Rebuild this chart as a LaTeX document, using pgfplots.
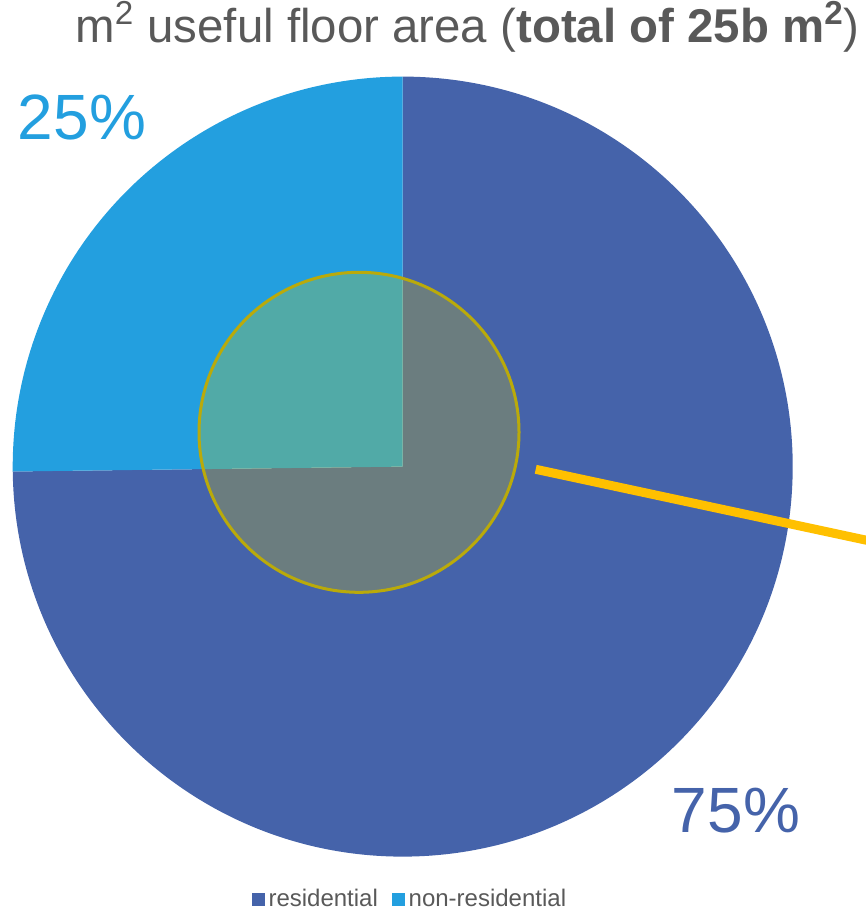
\documentclass[border=0pt]{standalone}
\usepackage{fontspec}
\setmainfont{Liberation Sans}
\usepackage{pgfplots}
\usepackage{pgfplotstable}
\pgfplotsset{compat=1.18}

\definecolor{resblue}{RGB}{69,99,170}
\definecolor{nonresblue}{RGB}{35,159,223}
\definecolor{txtgray}{RGB}{89,89,89}
\definecolor{hlfill}{RGB}{221,203,0}
\definecolor{hledge}{RGB}{186,170,10}
\definecolor{gold}{RGB}{255,192,0}

% share of useful floor area, %
\pgfplotstableread{
label value
residential 74.8
non-residential 25.2
}\piedata

\begin{document}
\begin{tikzpicture}
\pgfplotstablegetelem{0}{value}\of\piedata
\pgfmathsetmacro{\vres}{\pgfplotsretval}
\pgfmathsetmacro{\aend}{90-3.6*\vres}
\begin{axis}[
    scale only axis,
    width=433pt, height=454.5pt,
    xmin=0, xmax=866, ymin=0, ymax=909,
    y dir=reverse,
    hide axis,
    legend columns=-1,
    legend cell align=left,
    legend style={at={(0.4745,0.011)}, anchor=center, draw=none, fill=none,
        inner sep=0pt, text=txtgray, font=\fontsize{12}{14}\selectfont,
        /tikz/every even column/.append style={column sep=5pt}},
]
% pie slices, clockwise from 12 o'clock
\fill[resblue] (axis cs:402.7,466.6) -- ++(90:195pt)
    arc[start angle=90, end angle=\aend, radius=195pt] -- cycle;
\fill[nonresblue] (axis cs:402.7,466.6) -- ++(\aend:195pt)
    arc[start angle=\aend, end angle=-270, radius=195pt] -- cycle;

% highlight circle and pointer
\draw[hledge, line width=1.5pt, fill=hlfill, fill opacity=0.25]
    (axis cs:359,432.3) circle[radius=80pt];
\addplot[gold, line width=4.5pt, no markers, forget plot]
    coordinates {(535.7,469.3) (870,541)};

\addlegendimage{legend image code/.code={\fill[resblue] (0pt,-3pt) rectangle (6pt,3pt);}}
\addlegendentry{residential}
\addlegendimage{legend image code/.code={\fill[nonresblue] (0pt,-3pt) rectangle (6pt,3pt);}}
\addlegendentry{non-residential}

\node[anchor=base, text=nonresblue, font=\fontsize{32}{38}\selectfont]
    at (axis cs:82,140) {25\%};
\node[anchor=base, text=resblue, font=\fontsize{32}{38}\selectfont]
    at (axis cs:736,832) {75\%};
\node[anchor=base, text=txtgray, font=\fontsize{23.7}{29}\selectfont]
    at (axis cs:467.5,43) {m\textsuperscript{2} useful floor area (\textbf{total of 25b m\textsuperscript{2}})};
\end{axis}
\pgfresetboundingbox
\path[use as bounding box] (current axis.south west) rectangle (current axis.north east);
\end{tikzpicture}
\end{document}
